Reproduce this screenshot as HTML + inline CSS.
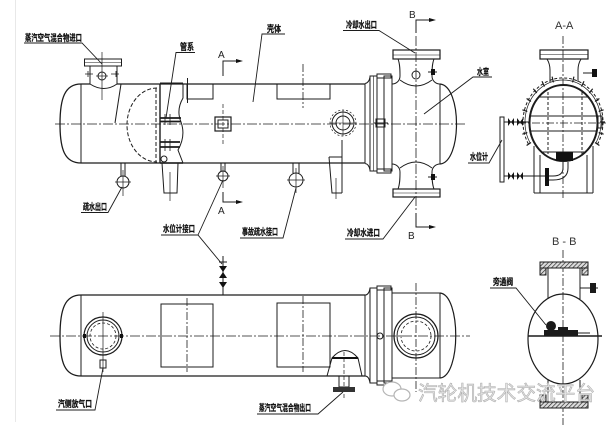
<!DOCTYPE html>
<html><head><meta charset="utf-8">
<style>
html,body{margin:0;padding:0;background:#fff;}
svg{display:block;}
.l{font-family:"Liberation Sans","Noto Sans CJK SC",sans-serif;font-size:9px;font-weight:bold;fill:#111;stroke:#111;stroke-width:0.25;}
.t{font-family:"Liberation Sans",sans-serif;font-size:10px;fill:#222;}
</style></head><body>
<svg width="606" height="430" viewBox="0 0 606 430" xmlns="http://www.w3.org/2000/svg">
<defs>
<pattern id="h" width="3" height="3" patternUnits="userSpaceOnUse" patternTransform="rotate(45)">
<rect width="3" height="3" fill="#ddd"/><line x1="0" y1="0" x2="0" y2="3" stroke="#222" stroke-width="1.3"/></pattern>
</defs>
<rect width="606" height="430" fill="#fff"/>
<line x1="15.5" y1="0" x2="15.5" y2="422" stroke="#e8e8e8"/>

<!-- ================= TOP VIEW ================= -->
<g fill="none" stroke="#1c1c1c" stroke-width="1">
<line x1="55" y1="124" x2="466" y2="124" stroke-width="0.8" stroke-dasharray="10 2 2 2"/>
<line x1="416" y1="36" x2="416" y2="210" stroke-width="0.8" stroke-dasharray="10 2 2 2"/>
<path d="M81,84 C65,84 60,98 60,124 C60,150 65,163 81,163" stroke-width="1.3"/>
<line x1="81" y1="84" x2="81" y2="163"/>
<path d="M81,84 H90 M117,84 H365" stroke-width="1.3"/>
<path d="M81,163 H365" stroke-width="1.3"/>
<rect x="84.5" y="59" width="37" height="7"/>
<line x1="84.5" y1="62.5" x2="121.5" y2="62.5" stroke-width="0.6"/>
<path d="M90,66 V84 M117,66 V84"/>
<path d="M90,84 Q104,93 117,84"/>
<circle cx="102" cy="76" r="4"/>
<line x1="102" y1="52" x2="102" y2="100" stroke-width="0.7"/>
<line x1="96" y1="76" x2="108" y2="76" stroke-width="0.7"/>
<path d="M85,74 H93 M88,71 V77 M111,74 H119 M116,71 V77" stroke-width="0.8"/>
<line x1="121" y1="84" x2="115" y2="123"/>
<path d="M157,88 A30,37 0 0 0 157,162" stroke-dasharray="4 2"/>
<line x1="156" y1="88" x2="156" y2="163" stroke-dasharray="4 2"/>
<line x1="160" y1="84" x2="160" y2="163" stroke-width="1.4"/>
<line x1="160" y1="83.5" x2="183" y2="83.5" stroke-width="2"/>
<line x1="160" y1="163" x2="183" y2="163" stroke-width="1.6"/>
<path d="M183,84 V98 Q176,110 181,122 Q186,136 178,150 L183,163"/>
<path d="M160,118 H181 M160,121.5 H181 M160,142 H180 M160,147 H180" stroke-width="1.8"/>
<path d="M165,114 V125 M170,114 V125 M165,139 V151 M170,139 V151" stroke-width="0.8"/>
<circle cx="164" cy="159" r="3"/>
<path d="M162,163 L164,193 H177 L178,163"/>
<line x1="170" y1="172" x2="170" y2="201" stroke-width="0.7"/>
<rect x="187" y="84" width="26" height="15"/>
<line x1="187.5" y1="78" x2="187.5" y2="103"/>
<rect x="277" y="84" width="53" height="15"/>
<line x1="303" y1="64" x2="303" y2="108" stroke-width="0.8" stroke-dasharray="8 2 2 2"/>
<rect x="215" y="117" width="16" height="14" stroke-width="1.2"/>
<rect x="218" y="120" width="10" height="8"/>
<line x1="223" y1="104" x2="223" y2="144" stroke-width="0.7" stroke-dasharray="4 2"/>
<circle cx="343" cy="123" r="13" stroke-width="0.7" stroke-dasharray="2 2"/>
<circle cx="343" cy="123" r="11"/>
<circle cx="343" cy="123" r="7"/>
<path d="M343,110 V136 M330,123 H356" stroke-width="0.6"/>
<path d="M329,157 H342 M329,157 L332,193 H342 M342,140 V193"/>
<line x1="336" y1="178" x2="336" y2="199" stroke-width="0.7"/>
<path d="M121,163 V176 M125,163 V176"/>
<circle cx="123" cy="182" r="6"/>
<path d="M123,170 V196 M115,182 H131" stroke-width="0.7"/>
<path d="M221,163 V171 M225,163 V171"/>
<circle cx="223" cy="176" r="5"/>
<path d="M223,166 V188 M216,176 H230" stroke-width="0.7"/>
<path d="M293,163 V173 M299,163 V173"/>
<circle cx="296" cy="180" r="7"/>
<path d="M296,168 V193 M287,180 H305" stroke-width="0.7"/>
<path d="M365,83.5 Q369,83 370,77 M365,163.5 Q369,164 370,170"/>
<line x1="365" y1="84" x2="365" y2="163"/>
<rect x="370" y="76" width="7" height="95"/>
<line x1="373.5" y1="76" x2="373.5" y2="171" stroke-width="0.6"/>
<rect x="377" y="78" width="7" height="91"/>
<rect x="377" y="74" width="14" height="4"/>
<rect x="377" y="169" width="14" height="4"/>
<rect x="384" y="76" width="8" height="95"/>
<rect x="376" y="119" width="9" height="8"/>
<line x1="374" y1="123" x2="388" y2="123"/>
<path d="M398,59 C400,64 400,70 400,76 C400,81 396,84 392,84"/>
<path d="M434,59 C432,64 432,70 432,76 C432,81 436,84 440,84"/>
<path d="M400,80 Q416,92 432,80"/>
<path d="M398,189 C400,184 400,178 400,172 C400,167 396,164 392,164"/>
<path d="M434,189 C432,184 432,178 432,172 C432,167 436,164 440,164"/>
<path d="M400,168 Q416,156 432,168"/>
<line x1="440" y1="84" x2="440" y2="164"/>
<path d="M440,84 C462,86 462,162 440,164" stroke-width="1.2"/>
<rect x="393" y="50" width="47" height="9" stroke-width="1.2"/>
<line x1="393" y1="55" x2="440" y2="55" stroke-width="0.6"/>
<rect x="393" y="189" width="47" height="8" stroke-width="1.2"/>
<line x1="393" y1="193" x2="440" y2="193" stroke-width="0.6"/>
<circle cx="416" cy="75" r="4"/>
<path d="M428,72 H437 M428,177 H437"/>
</g>
<rect x="431" y="69" width="4" height="6" fill="#111"/>
<rect x="431" y="174" width="4" height="6" fill="#111"/>

<g fill="none" stroke="#1c1c1c" stroke-width="1">
<path d="M223,76 V61 H237"/>
<path d="M223,192 V202 H237"/>
<path d="M416,33 V20 H430"/>
<path d="M416,213 V227 H430"/>
</g>
<g fill="#111">
<path d="M236,59 L243,61 L236,63 Z"/>
<path d="M236,200 L243,202 L236,204 Z"/>
<path d="M429,18 L436,20 L429,22 Z"/>
<path d="M429,225 L436,227 L429,229 Z"/>
</g>
<text class="t" x="218" y="58">A</text>
<text class="t" x="218" y="214">A</text>
<text class="t" x="409" y="18">B</text>
<text class="t" x="408" y="239">B</text>

<!-- ================= A-A SECTION ================= -->
<text x="555" y="29" style="font-family:'Liberation Sans',sans-serif;font-size:11px;fill:#333;">A-A</text>
<g fill="none" stroke="#1c1c1c" stroke-width="1">
<line x1="563" y1="36" x2="563" y2="198" stroke-width="0.8" stroke-dasharray="8 2 2 2"/>
<rect x="540" y="50" width="48" height="9" stroke-width="1.2"/>
<line x1="540" y1="54.5" x2="588" y2="54.5" stroke-width="0.6"/>
<path d="M547,59 Q550,64 550,70 V82 M581,59 Q578,64 578,70 V82"/>
<path d="M528.4,144 A40,44 0 1 1 597.6,144" stroke-dasharray="3 2"/>
<path d="M530.1,143 A38,42 0 1 1 595.9,143" stroke-width="0.7"/>
<path d="M595,142.5 L599.4,145.5 M598.7,132.6 L603.6,134.2 M600,122 L605,122 M598.7,111.4 L603.6,109.8 M595,101.5 L599.4,98.5 M589.2,93 L592.7,88.8 M581.5,86.5 L584,81.3 M572.6,82.4 L573.9,76.6 M553.4,82.4 L552.1,76.6 M544.5,86.5 L542,81.3 M536.8,93 L533.3,88.8 M531,101.5 L526.6,98.5 M527.3,111.4 L522.4,109.8 M526,122 L521,122 M527.3,132.6 L522.4,134.2 M531,142.5 L526.6,145.5" stroke-width="1.2"/>
<ellipse cx="563.5" cy="123" rx="34" ry="38" stroke-width="2"/>
<path d="M538,97 H589 M530,116 H597 M530,131 H597 M541,152 H586"/>
<line x1="518" y1="123" x2="606" y2="123" stroke-width="0.8" stroke-dasharray="8 2 2 2"/>
<path d="M548,92 V154 M582,92 V154" stroke-dasharray="3 2"/>
<path d="M534,146 V193 M540,155 V193 M587,155 V193 M593,146 V193 M534,193 H593"/>
<path d="M563,162 V168 Q563,176 553,176 H547 M568,162 V168 Q568,180 553,180 H547"/>
<path d="M504,176 H547"/>
<rect x="500" y="117" width="4" height="65"/>
<path d="M504,122 H530"/>
<path d="M583,73 H597"/>
<rect x="598" y="116" width="4" height="12"/>
</g>
<g fill="#111">
<rect x="556" y="152" width="17" height="9"/>
<rect x="545" y="168" width="4" height="18"/>
<rect x="592" y="69" width="5" height="8"/>
<path d="M508,118 L514,126 L514,118 L508,126 Z M517,118 L523,126 L523,118 L517,126 Z"/>
<path d="M508,172 L514,180 L514,172 L508,180 Z M517,172 L523,180 L523,172 L517,180 Z"/>
</g>

<!-- ================= B-B SECTION ================= -->
<text x="552" y="245" style="font-family:'Liberation Sans',sans-serif;font-size:11px;fill:#333;">B - B</text>
<g fill="none" stroke="#1c1c1c" stroke-width="1">
<line x1="563" y1="250" x2="563" y2="425" stroke-width="0.8" stroke-dasharray="8 2 2 2"/>
<rect x="540" y="262" width="48" height="6" fill="url(#h)"/>
<rect x="540" y="268" width="6" height="7" fill="url(#h)"/>
<rect x="582" y="268" width="6" height="7" fill="url(#h)"/>
<path d="M548,268 V299 M580,268 V299"/>
<ellipse cx="563" cy="339" rx="35" ry="45" stroke-width="1.2"/>
<line x1="528" y1="336" x2="602" y2="336" stroke-width="1.4"/>
<path d="M548,380 V402 M580,380 V402"/>
<rect x="540" y="402" width="48" height="6" fill="url(#h)"/>
<rect x="540" y="395" width="6" height="7" fill="url(#h)"/>
<rect x="582" y="395" width="6" height="7" fill="url(#h)"/>
<path d="M580,288 H598"/>
<path d="M578,333 H590"/>
</g>
<g fill="#1a1a1a">
<rect x="590" y="283" width="6" height="10"/>
<circle cx="551" cy="326" r="5"/>
<rect x="544" y="330" width="34" height="6"/>
<rect x="558" y="327" width="10" height="4"/>
</g>

<!-- ================= BOTTOM VIEW ================= -->
<g fill="none" stroke="#1c1c1c" stroke-width="1">
<line x1="50" y1="336" x2="470" y2="336" stroke-width="0.8" stroke-dasharray="10 2 2 2"/>
<path d="M81,295 C65,295 60,309 60,336 C60,363 65,376 81,376" stroke-width="1.3"/>
<line x1="81" y1="295" x2="81" y2="376"/>
<path d="M81,295 H365 M81,376 H365" stroke-width="1.3"/>
<circle cx="103" cy="336" r="19" stroke-width="1.2"/>
<circle cx="103" cy="336" r="16"/>
<circle cx="103" cy="336" r="13" stroke-width="0.8" stroke-dasharray="3 2"/>
<line x1="103" y1="312" x2="103" y2="372" stroke-width="0.7"/>
<rect x="100" y="360" width="6" height="8"/>
<rect x="161" y="304" width="52" height="63"/>
<line x1="187" y1="298" x2="187" y2="372" stroke-width="0.8" stroke-dasharray="8 2 2 2"/>
<rect x="277" y="303" width="53" height="64"/>
<line x1="303" y1="296" x2="303" y2="372" stroke-width="0.8" stroke-dasharray="8 2 2 2"/>
<line x1="223" y1="256" x2="223" y2="295"/>
<path d="M219,262 H227"/>
<path d="M365,295 Q369,295 370,288 M365,376 Q369,376 370,383"/>
<line x1="365" y1="295" x2="365" y2="376"/>
<rect x="370" y="288" width="7" height="95"/>
<rect x="377" y="290" width="7" height="91"/>
<rect x="377" y="286" width="14" height="4"/>
<rect x="377" y="381" width="14" height="4"/>
<rect x="384" y="288" width="8" height="95"/>
<circle cx="380" cy="336" r="3"/>
<path d="M392,293 H440 M392,378 H440"/>
<line x1="440" y1="293" x2="440" y2="378"/>
<path d="M440,293 C461,295 461,376 440,378" stroke-width="1.2"/>
<circle cx="416" cy="336" r="22" stroke-width="1.2"/>
<circle cx="416" cy="336" r="19"/>
<circle cx="416" cy="336" r="15" stroke-width="0.8" stroke-dasharray="3 2"/>
<line x1="416" y1="283" x2="416" y2="392" stroke-width="0.8" stroke-dasharray="8 2 2 2"/>
<path d="M327,376 L332,358 Q345,343 358,358 L362,376"/>
<line x1="344" y1="352" x2="344" y2="398" stroke-width="0.7" stroke-dasharray="4 2"/>
<rect x="339" y="376" width="10" height="11"/>
</g>
<g fill="#111">
<line x1="332" y1="358" x2="358" y2="358" stroke="#111" stroke-width="2"/>
<rect x="333" y="387" width="22" height="5" fill="#333"/>
<path d="M219,266 L227,266 L223,272 Z M219,278 L227,278 L223,272 Z"/>
<path d="M219,282 L227,282 L223,288 Z"/>
<rect x="83" y="334" width="3" height="4"/>
<rect x="120" y="334" width="3" height="4"/>
</g>

<!-- ================= LABELS & LEADERS ================= -->
<g fill="none" stroke="#1c1c1c" stroke-width="0.9">
<path d="M24,43 H82 L102,64"/>
<path d="M195,52.5 H176 L166,118"/>
<path d="M285,34 H262 L253,102"/>
<path d="M81,212.5 H108 L122,187"/>
<path d="M343,30.5 H379 L415,53"/>
<path d="M492,77 H473 L424,114"/>
<path d="M468,163 H489 L502,140"/>
<path d="M161,235 H198 L222,264 M198,235 L223,180"/>
<path d="M240,238 H283 L296,188"/>
<path d="M345,239 H383 L415,197"/>
<path d="M490,288 H516 L546,325"/>
<path d="M56,410 H95 L103,368"/>
<path d="M257,414 H318 L343,392"/>
</g>
<text class="l" x="25" y="41" textLength="57" lengthAdjust="spacingAndGlyphs">蒸汽空气混合物进口</text>
<text class="l" x="180" y="50" textLength="14" lengthAdjust="spacingAndGlyphs">管系</text>
<text class="l" x="267" y="32" textLength="14" lengthAdjust="spacingAndGlyphs">壳体</text>
<text class="l" x="83" y="210" textLength="24" lengthAdjust="spacingAndGlyphs">疏水出口</text>
<text class="l" x="346" y="28" textLength="31" lengthAdjust="spacingAndGlyphs">冷却水出口</text>
<text class="l" x="477" y="75" textLength="12" lengthAdjust="spacingAndGlyphs">水室</text>
<text class="l" x="470" y="160" textLength="18" lengthAdjust="spacingAndGlyphs">水位计</text>
<text class="l" x="163" y="232" textLength="32" lengthAdjust="spacingAndGlyphs">水位计接口</text>
<text class="l" x="242" y="235" textLength="36" lengthAdjust="spacingAndGlyphs">事故疏水接口</text>
<text class="l" x="347" y="236" textLength="33" lengthAdjust="spacingAndGlyphs">冷却水进口</text>
<text class="l" x="493" y="285" textLength="20" lengthAdjust="spacingAndGlyphs">旁通阀</text>
<text class="l" x="58" y="407" textLength="34" lengthAdjust="spacingAndGlyphs">汽侧放气口</text>
<text class="l" x="259" y="411" textLength="52" lengthAdjust="spacingAndGlyphs">蒸汽空气混合物出口</text>

<!-- ================= WATERMARK ================= -->
<g fill="#fff" stroke="#b5b5b5" stroke-width="1.2">
<ellipse cx="392" cy="389" rx="9" ry="7"/>
<ellipse cx="402" cy="395" rx="8" ry="6"/>
</g>
<text x="418" y="400" textLength="177" lengthAdjust="spacingAndGlyphs" style="font-family:'Liberation Sans','Noto Sans CJK SC',sans-serif;font-size:20px;fill:#e4e4e4;stroke:#b0b0b0;stroke-width:0.6;">汽轮机技术交流平台</text>
</svg>
</body></html>
